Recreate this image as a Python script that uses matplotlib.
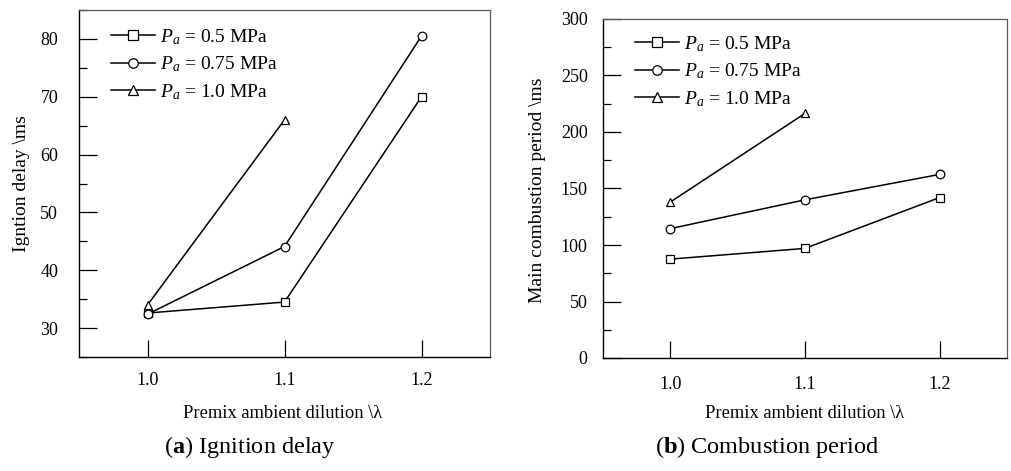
import matplotlib
matplotlib.use("Agg")
import matplotlib.pyplot as plt
from matplotlib.ticker import MultipleLocator

plt.rcParams['font.family'] = 'Liberation Serif'
plt.rcParams['mathtext.fontset'] = 'custom'
plt.rcParams['mathtext.rm'] = 'Liberation Serif'
plt.rcParams['mathtext.it'] = 'Liberation Serif:italic'
plt.rcParams['mathtext.bf'] = 'Liberation Serif:bold'

# data
dilution = [1.0, 1.1, 1.2]
labels = [r"$P_a$ = 0.5 MPa", r"$P_a$ = 0.75 MPa", r"$P_a$ = 1.0 MPa"]
markers = ['s', 'o', '^']

delay_05 = [32.6, 34.5, 70.0]
delay_075 = [32.4, 44.1, 80.5]
delay_10 = [34.0, 66.0]

period_05 = [87.5, 97.0, 142.0]
period_075 = [114.5, 140.0, 162.5]
period_10 = [138.0, 216.5]

W, H = 1011, 471
fig = plt.figure(figsize=(W / 100, H / 100), dpi=100)

ax1 = fig.add_axes([79 / W, 114 / H, 411 / W, 347 / H])
ax2 = fig.add_axes([603 / W, 113 / H, 404 / W, 339 / H])


def draw(ax, series, ylim, major, minor, ypad, xpad, legtop):
    for ys, lab, mk in zip(series, labels, markers):
        ax.plot(dilution[:len(ys)], ys, color='black', lw=1.1, marker=mk,
                ms=6.2, mfc='white', mec='black', mew=0.9, label=lab)
    ax.set_xlim(0.95, 1.25)
    ax.set_ylim(*ylim)
    ax.set_xticks(dilution)
    ax.set_xticklabels(['1.0', '1.1', '1.2'])
    ax.yaxis.set_major_locator(MultipleLocator(major))
    ax.yaxis.set_minor_locator(MultipleLocator(minor))
    ax.tick_params(axis='y', which='major', direction='in', length=13, width=0.9,
                   labelsize=13, pad=ypad)
    ax.tick_params(axis='y', which='minor', direction='in', length=6, width=0.9)
    ax.tick_params(axis='x', which='major', direction='in', length=12, width=0.9,
                   labelsize=13, pad=xpad)
    for s in ['left', 'bottom']:
        ax.spines[s].set_linewidth(1.0)
    for s in ['top', 'right']:
        ax.spines[s].set_linewidth(0.9)
        ax.spines[s].set_color('0.35')
    h = ax.get_position().height * H
    w = ax.get_position().width * W
    ax.legend(loc='upper left', frameon=False, fontsize=14,
              handlelength=2.25, handletextpad=0.25, labelspacing=0.4,
              borderpad=0, borderaxespad=0, markerscale=1.1,
              bbox_to_anchor=(32 / w, 1 - legtop / h))


draw(ax1, [delay_05, delay_075, delay_10], (25, 85), 10, 5, 15, 11, 17)
draw(ax2, [period_05, period_075, period_10], (0, 300), 50, 25, 11, 13, 15)

fig.text(283 / W, 1 - 413 / H, r"Premix ambient dilution \λ", ha='center', va='center', fontsize=13.3)
fig.text(805 / W, 1 - 413 / H, r"Premix ambient dilution \λ", ha='center', va='center', fontsize=13.3)
fig.text(22 / W, 1 - 184 / H, r"Igntion delay \ms", ha='center', va='center', rotation=90, fontsize=14)
fig.text(537 / W, 1 - 190 / H, r"Main combustion period \ms", ha='center', va='center', rotation=90, fontsize=14)

fig.text(250 / W, 1 - 447 / H, r"($\mathbf{a}$) Ignition delay", ha='center', va='center', fontsize=17.5)
fig.text(767 / W, 1 - 447 / H, r"($\mathbf{b}$) Combustion period", ha='center', va='center', fontsize=17.5)

fig.savefig('out.png', dpi=100)
